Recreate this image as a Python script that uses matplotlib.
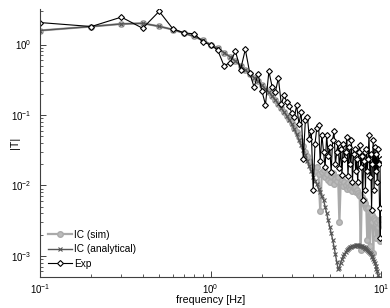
import numpy as np
import matplotlib
matplotlib.use('Agg')
import matplotlib.pyplot as plt
from matplotlib.ticker import LogLocator, NullFormatter

plt.rcParams['font.family'] = ['Liberation Sans', 'DejaVu Sans']
plt.rcParams['mathtext.default'] = 'regular'

# frequency grid, 0.1 Hz steps
freq = np.round(np.arange(1, 101) * 0.1, 1)

ic_sim = [
    1.58, 1.80, 1.96, 2.00, 1.81, 1.63, 1.45, 1.30, 1.15, 1.00,
    0.88, 0.77, 0.67, 0.58, 0.50, 0.44, 0.385, 0.34, 0.30, 0.265,
    0.235, 0.21, 0.185, 0.165, 0.145, 0.125, 0.11, 0.098, 0.087, 0.076,
    0.066, 0.057, 0.049, 0.042, 0.036, 0.030, 0.026, 0.022, 0.019, 0.0175,
    0.016, 0.018, 0.0145, 0.0043, 0.0155, 0.0165, 0.013, 0.0145, 0.012, 0.0113,
    0.0135, 0.0148, 0.0105, 0.0125, 0.0115, 0.0133, 0.0030, 0.011, 0.0118, 0.0098,
    0.0112, 0.0102, 0.0090, 0.0107, 0.0095, 0.0088, 0.010, 0.0084, 0.0092, 0.0095,
    0.0080, 0.0085, 0.0077, 0.0072, 0.0070, 0.0012, 0.0069, 0.0058, 0.0062, 0.0052,
    0.0056, 0.0048, 0.0017, 0.0047, 0.0042, 0.0014, 0.0040, 0.0038, 0.0030, 0.0011,
    0.0034, 0.0032, 0.0028, 0.0018, 0.0030, 0.0026, 0.0032, 0.0016, 0.0028, 0.0033,
]

ic_analytical = [
    1.58, 1.80, 1.96, 2.00, 1.81, 1.63, 1.45, 1.30, 1.15, 1.00,
    0.88, 0.77, 0.67, 0.58, 0.50, 0.44, 0.385, 0.34, 0.30, 0.265,
    0.235, 0.21, 0.185, 0.165, 0.145, 0.125, 0.11, 0.097, 0.085, 0.075,
    0.063, 0.053, 0.0446, 0.0375, 0.0316, 0.0266, 0.0224, 0.0188, 0.0158, 0.0133,
    0.0117, 0.0103, 0.0090, 0.0080, 0.0070, 0.0062, 0.0050, 0.0040, 0.0032, 0.0026,
    0.0021, 0.0017, 0.00135, 0.00105, 0.00082, 0.00065, 0.00068, 0.00080, 0.00090, 0.00098,
    0.00106, 0.00113, 0.00119, 0.00124, 0.00128, 0.00132, 0.00135, 0.00137, 0.00139, 0.0014,
    0.00141, 0.00141, 0.00141, 0.0014, 0.00139, 0.00138, 0.00137, 0.00135, 0.00133, 0.00131,
    0.00128, 0.00125, 0.00122, 0.00118, 0.00114, 0.0011, 0.00105, 0.001, 0.00095, 0.0009,
    0.00084, 0.00078, 0.00072, 0.00066, 0.0006, 0.00054, 0.00048, 0.00042, 0.00036, 0.0003,
]

exp = [
    2.05, 1.80, 2.45, 1.70, 2.96, 1.68, 1.46, 1.42, 1.10, 0.98,
    0.84, 0.50, 0.55, 0.80, 0.44, 0.85, 0.39, 0.25, 0.376, 0.22,
    0.14, 0.415, 0.249, 0.212, 0.334, 0.142, 0.19, 0.153, 0.133, 0.105,
    0.092, 0.137, 0.075, 0.11, 0.024, 0.084, 0.094, 0.046, 0.059, 0.0086,
    0.039, 0.065, 0.072, 0.022, 0.052, 0.030, 0.018, 0.052, 0.026, 0.035,
    0.0155, 0.044, 0.059, 0.020, 0.030, 0.040, 0.0174, 0.033, 0.014, 0.039,
    0.024, 0.030, 0.049, 0.0135, 0.035, 0.020, 0.044, 0.0113, 0.028, 0.033,
    0.016, 0.024, 0.011, 0.030, 0.037, 0.018, 0.026, 0.0062, 0.022, 0.030,
    0.0086, 0.033, 0.016, 0.024, 0.052, 0.013, 0.028, 0.0045, 0.020, 0.044,
    0.0086, 0.035, 0.016, 0.028, 0.011, 0.033, 0.020, 0.0048, 0.0018, 0.024,
]

fig = plt.figure(figsize=(3.9, 3.08), dpi=100)
ax = fig.add_axes([0.1026, 0.1006, 0.8744, 0.8704])

ax.plot(freq, ic_sim, '-o', color='#aaaaaa', lw=1.6, ms=4, mec='#aaaaaa',
        mfc='#bbbbbb', label='IC (sim)')
ax.plot(freq, ic_analytical, '-x', color='#555555', lw=1.0, ms=3, mew=0.8,
        label='IC (analytical)')
ax.plot(freq, exp, '-D', color='black', lw=0.8, ms=3, mew=0.8, mfc='white',
        label='Exp')

ax.set_xscale('log')
ax.set_yscale('log')
ax.set_xlim(0.1, 10)
ax.set_ylim(5e-4, 3.2)

for s in ['top', 'right']:
    ax.spines[s].set_visible(False)
for s in ['left', 'bottom']:
    ax.spines[s].set_color('#404040')
    ax.spines[s].set_linewidth(0.8)

ax.xaxis.set_minor_locator(LogLocator(base=10, subs=np.arange(2, 10)))
ax.yaxis.set_minor_locator(LogLocator(base=10, subs=np.arange(2, 10)))
ax.xaxis.set_minor_formatter(NullFormatter())
ax.yaxis.set_minor_formatter(NullFormatter())
ax.tick_params(which='both', direction='in', colors='#404040', labelcolor='black',
               labelsize=7, top=False, right=False)
ax.tick_params(which='major', length=4, width=0.7)
ax.tick_params(which='minor', length=2, width=0.6)
ax.tick_params(axis='y', which='major', pad=6)
ax.tick_params(axis='x', which='major', pad=4)

ax.set_xlabel('frequency [Hz]', fontsize=7.7)
ax.set_ylabel('|T|', fontsize=7.7)
ax.xaxis.set_label_coords(0.5, -0.067)
ax.yaxis.set_label_coords(-0.058, 0.5)

ax.legend(loc='lower left', bbox_to_anchor=(0.0, 0.0), frameon=False, fontsize=7.3,
          handlelength=2.4, handletextpad=0.2, labelspacing=0.45, borderaxespad=0.4)

fig.savefig('out.png', dpi=100)
